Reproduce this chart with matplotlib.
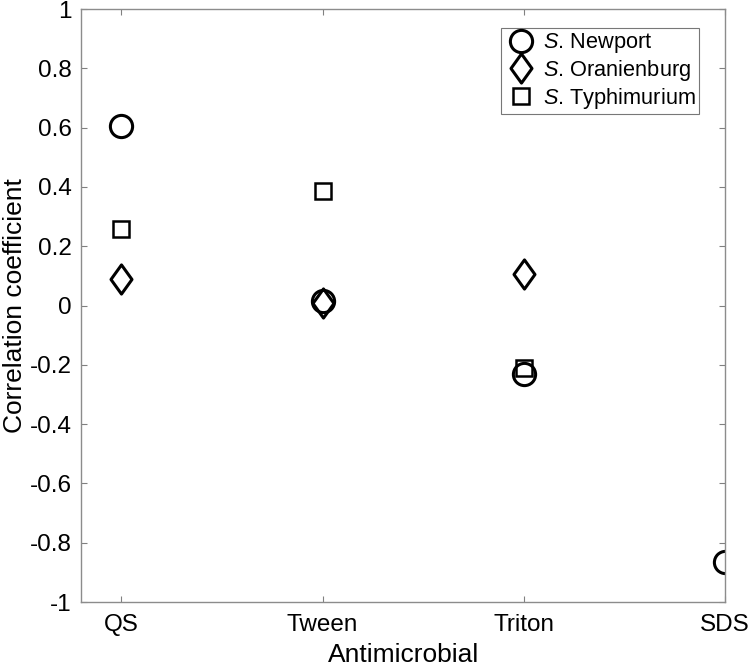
import matplotlib
matplotlib.use('Agg')
import matplotlib.pyplot as plt
from matplotlib.path import Path

plt.rcParams['font.family'] = ['Liberation Sans', 'DejaVu Sans']
plt.rcParams['mathtext.fontset'] = 'custom'
plt.rcParams['mathtext.it'] = 'Liberation Sans:italic'
plt.rcParams['mathtext.rm'] = 'Liberation Sans'

categories = ['QS', 'Tween', 'Triton', 'SDS']
newport_x = [1, 2, 3, 4]
newport = [0.605, 0.015, -0.231, -0.865]
oran_x = [1, 2, 3]
oranienburg = [0.089, 0.01, 0.105]
typh_x = [1, 2, 3]
typhimurium = [0.258, 0.386, -0.21]
yticks = [-1, -0.8, -0.6, -0.4, -0.2, 0, 0.2, 0.4, 0.6, 0.8, 1]
ytick_labels = ['-1', '-0.8', '-0.6', '-0.4', '-0.2', '0', '0.2', '0.4', '0.6', '0.8', '1']

# matlab style diamond (a bit narrower than tall)
diamond = Path([(0, 1), (0.72, 0), (0, -1), (-0.72, 0), (0, 1)],
               [Path.MOVETO, Path.LINETO, Path.LINETO, Path.LINETO, Path.CLOSEPOLY])

fig = plt.figure(figsize=(7.5, 6.69), dpi=100)
ax = fig.add_axes([0.108, 0.100, 0.859, 0.8865])

ax.plot(newport_x, newport, 'o', ms=16, mfc='none', mec='black', mew=2.2,
        label=r'$\it{S}$. Newport')
ax.plot(oran_x, oranienburg, marker=diamond, ls='none', ms=21, mfc='none', mec='black', mew=2.2,
        label=r'$\it{S}$. Oranienburg')
ax.plot(typh_x, typhimurium, 's', ms=11.5, mfc='none', mec='black', mew=1.8,
        label=r'$\it{S}$. Typhimurium')

ax.set_xlim(0.8, 4)
ax.set_ylim(-1, 1)
ax.set_xticks([1, 2, 3, 4])
ax.set_xticklabels(categories)
ax.set_yticks(yticks)
ax.set_yticklabels(ytick_labels)
ax.tick_params(direction='in', top=True, right=True, length=4.5, width=0.8,
               color='#808080', labelsize=17.5)
ax.tick_params(axis='x', pad=8.3)
ax.tick_params(axis='y', pad=6.5)
for s in ax.spines.values():
    s.set_color('#8c8c8c')
    s.set_linewidth(1.0)

ax.set_xlabel('Antimicrobial', fontsize=19, labelpad=5.3)
ax.set_ylabel('Correlation coefficient', fontsize=19, labelpad=2)

leg = ax.legend(loc='upper right', bbox_to_anchor=(0.96, 0.968), borderaxespad=0,
                fontsize=15.7, frameon=True, fancybox=False, handletextpad=0.3,
                borderpad=0.15, labelspacing=0.12, handlelength=1.5)
leg.get_frame().set_edgecolor('#555555')
leg.get_frame().set_linewidth(0.8)

fig.savefig('out.png', dpi=100)
